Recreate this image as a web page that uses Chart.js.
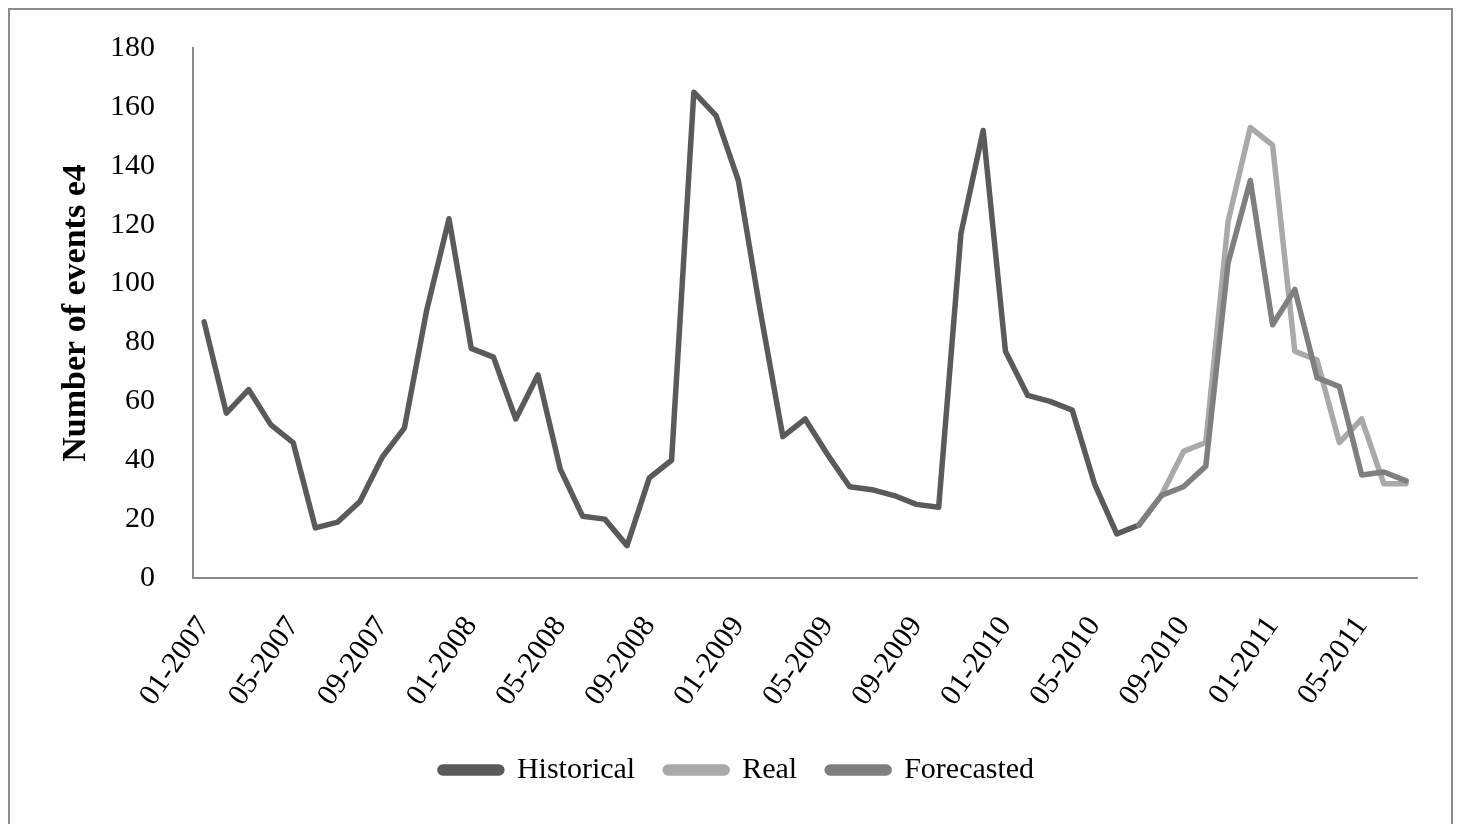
<!DOCTYPE html>
<html>
<head>
<meta charset="utf-8">
<script src="https://cdn.jsdelivr.net/npm/chart.js@4.4.1/dist/chart.umd.min.js"></script>
<style>
html,body{margin:0;padding:0;background:#fff;overflow:hidden}
#frame{position:absolute;left:8px;top:8px;width:1441px;height:840px;border:2px solid #8c8c8c}
#wrap{position:absolute;left:0;top:0;width:1460px;height:824px}
</style>
</head>
<body>
<div id="frame"></div>
<div id="wrap"><canvas id="c"></canvas></div>
<script>
const months=['01-2007','02-2007','03-2007','04-2007','05-2007','06-2007','07-2007','08-2007','09-2007','10-2007','11-2007','12-2007',
'01-2008','02-2008','03-2008','04-2008','05-2008','06-2008','07-2008','08-2008','09-2008','10-2008','11-2008','12-2008',
'01-2009','02-2009','03-2009','04-2009','05-2009','06-2009','07-2009','08-2009','09-2009','10-2009','11-2009','12-2009',
'01-2010','02-2010','03-2010','04-2010','05-2010','06-2010','07-2010','08-2010','09-2010','10-2010','11-2010','12-2010',
'01-2011','02-2011','03-2011','04-2011','05-2011','06-2011','07-2011']

// values in units of e4, one per month
const historical=[87,56,64,52,46,17,19,26,41,51,91,122,
78,75,54,69,37,21,20,11,34,40,165,157,
135,90,48,54,42,31,30,28,25,24,117,152,
77,62,60,57,32,15,18]
const real=[18,28,43,46,121,153,147,77,74,46,54,32,32]
const forecasted=[18,28,31,38,107,135,86,98,68,65,35,36,33]
const startIdx=42 // month where real / forecasted begin (07-2010)

const pad=n=>Array(startIdx).fill(null).concat(n)

const serif='"Liberation Serif", "DejaVu Serif", serif'

new Chart(document.getElementById('c'),{
type:'line',
data:{labels:months,datasets:[
{label:'Historical',data:historical,borderColor:'#5a5a5a',backgroundColor:'#5a5a5a',order:2},
{label:'Real',data:pad(real),borderColor:'#a9a9a9',backgroundColor:'#a9a9a9',order:1},
{label:'Forecasted',data:pad(forecasted),borderColor:'#7f7f7f',backgroundColor:'#7f7f7f',order:0}
]},
options:{
responsive:true,maintainAspectRatio:false,animation:false,
layout:{padding:{left:56,right:42,top:39,bottom:29}},
elements:{
point:{radius:0,hoverRadius:0},
line:{borderWidth:5.5,tension:0,borderCapStyle:'round',borderJoinStyle:'round'}
},
plugins:{
tooltip:{enabled:false},
legend:{position:'bottom',
labels:{font:{family:serif,size:30},color:'#000',boxWidth:62,boxHeight:6,padding:30,
useBorderRadius:true,borderRadius:3,
sort:(a,b)=>a.datasetIndex-b.datasetIndex}}
},
scales:{
x:{offset:true,grid:{display:false},
border:{display:true,color:'#898989',width:2},
ticks:{autoSkip:false,minRotation:55,maxRotation:55,padding:24,color:'#000',font:{family:serif,size:30},
callback:(v,i)=>i%4===0?months[i]:''},
afterFit:s=>{s.height=147}},
y:{min:0,max:180,grid:{display:false},
border:{display:true,color:'#898989',width:2},
ticks:{stepSize:20,padding:30,color:'#000',font:{family:serif,size:30}},
title:{display:true,text:'Number of events e4',color:'#000',padding:0,font:{family:serif,size:34,weight:'bold'}},
afterFit:s=>{s.width=137}}
}
}
})
</script>
</body>
</html>
